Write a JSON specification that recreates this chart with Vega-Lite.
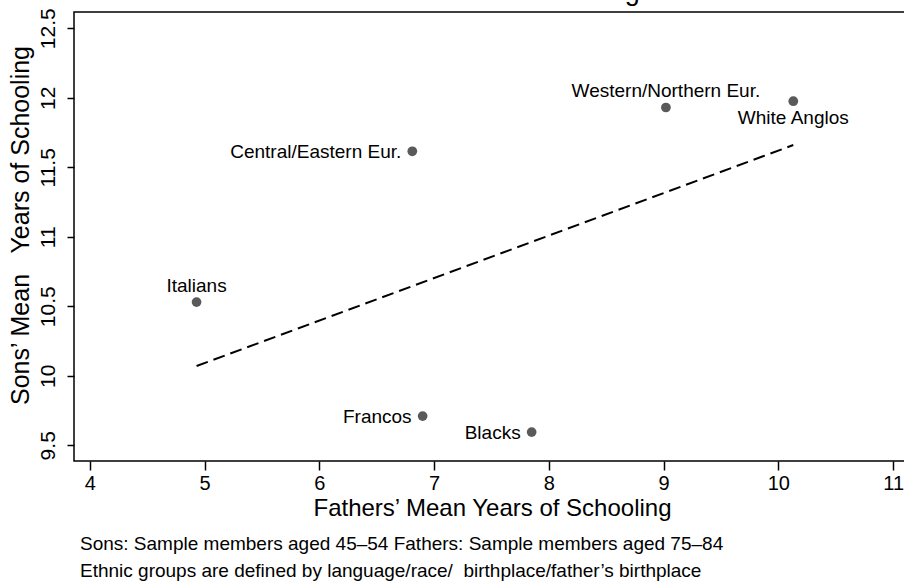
{
  "$schema": "https://vega.github.io/schema/vega-lite/v6.json",
  "autosize": {"type": "pad"},
  "padding": {"left": 7, "top": -22, "right": 0, "bottom": 0},
  "background": "white",
  "title": {"text": "Scatter Plot of Schooling", "font": "Liberation Sans", "fontSize": 27, "fontWeight": "normal", "color": "#000", "offset": 1, "anchor": "middle", "frame": "group"},
  "config": {
    "view": {"stroke": "#000", "strokeWidth": 1.5},
    "font": "Liberation Sans"
  },
  "datasets": {
    "groups": [
      {"group": "Italians", "father": 4.93, "son": 10.53},
      {"group": "Central/Eastern Eur.", "father": 6.81, "son": 11.615},
      {"group": "Western/Northern Eur.", "father": 9.02, "son": 11.93},
      {"group": "White Anglos", "father": 10.13, "son": 11.975},
      {"group": "Francos", "father": 6.90, "son": 9.71},
      {"group": "Blacks", "father": 7.85, "son": 9.595}
    ],
    "fit": [
      {"father": 4.93, "son": 10.07},
      {"father": 10.13, "son": 11.66}
    ]
  },
  "vconcat": [
    {
      "width": 836,
      "height": 449,
      "title": {
        "text": ["Sons: Sample members aged 45–54 Fathers: Sample members aged 75–84", "Ethnic groups are defined by language/race/\u00a0 birthplace/father’s birthplace"],
        "orient": "bottom",
        "anchor": "start",
        "frame": "group",
        "font": "Liberation Sans",
        "fontSize": 19,
        "fontWeight": "normal",
        "color": "#000",
        "lineHeight": 27,
        "offset": 15,
        "dx": 6
      },
      "layer": [
        {
          "data": {"name": "fit"},
          "mark": {"type": "line", "color": "#000", "strokeWidth": 2, "strokeDash": [12, 6]},
          "encoding": {
            "x": {
              "field": "father", "type": "quantitative",
              "scale": {"domain": [3.862, 11.147], "nice": false, "zero": false},
              "axis": {
                "title": "Fathers’ Mean Years of Schooling",
                "titleFont": "Liberation Sans", "titleFontSize": 24, "titleFontWeight": "normal", "titleColor": "#000",
                "titlePadding": 3,
                "values": [4, 5, 6, 7, 8, 9, 10, 11],
                "format": "~g",
                "labelFont": "Liberation Sans", "labelFontSize": 20, "labelColor": "#000",
                "labelPadding": 3,
                "tickSize": 9, "tickColor": "#000", "tickWidth": 1.5,
                "domain": false, "grid": false
              }
            },
            "y": {
              "field": "son", "type": "quantitative",
              "scale": {"domain": [9.387, 12.617], "nice": false, "zero": false},
              "axis": {
                "title": "Sons’ Mean\u00a0\u00a0 Years of Schooling",
                "titleFont": "Liberation Sans", "titleFontSize": 25, "titleFontWeight": "normal", "titleColor": "#000",
                "titlePadding": 4,
                "titleY": 213,
                "values": [9.5, 10, 10.5, 11, 11.5, 12, 12.5],
                "format": "~g",
                "labelFont": "Liberation Sans", "labelFontSize": 21, "labelColor": "#000",
                "labelAngle": -90, "labelAlign": "center", "labelBaseline": "bottom",
                "labelPadding": 9,
                "tickSize": 7, "tickColor": "#000", "tickWidth": 1.5,
                "domain": false, "grid": false
              }
            }
          }
        },
        {
          "data": {"name": "groups"},
          "mark": {"type": "circle", "size": 95, "color": "#5a5a5a", "opacity": 1},
          "encoding": {
            "x": {"field": "father", "type": "quantitative"},
            "y": {"field": "son", "type": "quantitative"}
          }
        },
        {
          "data": {"name": "groups"},
          "transform": [{"filter": "datum.group === 'Italians' || datum.group === 'Western/Northern Eur.'"}],
          "mark": {"type": "text", "fontSize": 19, "align": "center", "baseline": "alphabetic", "dy": -10, "color": "#000"},
          "encoding": {
            "x": {"field": "father", "type": "quantitative"},
            "y": {"field": "son", "type": "quantitative"},
            "text": {"field": "group"}
          }
        },
        {
          "data": {"name": "groups"},
          "transform": [{"filter": "datum.group === 'Central/Eastern Eur.' || datum.group === 'Francos' || datum.group === 'Blacks'"}],
          "mark": {"type": "text", "fontSize": 19, "align": "right", "baseline": "middle", "dx": -11, "dy": 1, "color": "#000"},
          "encoding": {
            "x": {"field": "father", "type": "quantitative"},
            "y": {"field": "son", "type": "quantitative"},
            "text": {"field": "group"}
          }
        },
        {
          "data": {"name": "groups"},
          "transform": [{"filter": "datum.group === 'White Anglos'"}],
          "mark": {"type": "text", "fontSize": 19, "align": "center", "baseline": "alphabetic", "dy": 23, "color": "#000"},
          "encoding": {
            "x": {"field": "father", "type": "quantitative"},
            "y": {"field": "son", "type": "quantitative"},
            "text": {"field": "group"}
          }
        }
      ]
    }
  ]
}
